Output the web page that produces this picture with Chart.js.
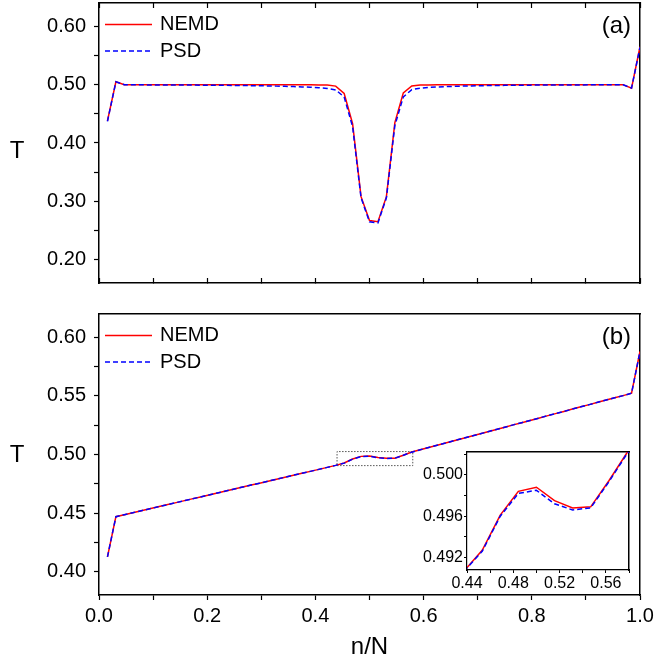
<!DOCTYPE html>
<html>
<head>
<meta charset="utf-8">
<title>Temperature profiles NEMD / PSD</title>
<script src="https://cdn.jsdelivr.net/npm/chart.js@4.4.1/dist/chart.umd.min.js"></script>
<style>
  body { margin: 0; background: #fff; }
  #wrap { position: relative; width: 654px; height: 663px; }
  canvas { position: absolute; left: 0; }
  #chartA { top: 0; }
  #chartB { top: 300px; }
  #inset { left: 410px; top: 440px; }
</style>
</head>
<body>
<div id="wrap">
  <canvas id="chartA" width="654" height="300"></canvas>
  <canvas id="chartB" width="654" height="363"></canvas>
  <canvas id="inset" width="230" height="160"></canvas>
</div>
<script>
// chain length and site index n (x = n/N)
const N = 64;
const sites = [
  1, 2, 3, 4, 5, 6, 7, 8, 9, 10, 11, 12, 13, 14, 15, 16,
  17, 18, 19, 20, 21, 22, 23, 24, 25, 26, 27, 28, 29, 30, 31, 32,
  33, 34, 35, 36, 37, 38, 39, 40, 41, 42, 43, 44, 45, 46, 47, 48,
  49, 50, 51, 52, 53, 54, 55, 56, 57, 58, 59, 60, 61, 62, 63, 64
];

// panel (a)
const nemdA = [
  0.438, 0.505, 0.500, 0.500, 0.500, 0.500, 0.500, 0.500, 0.500, 0.500,
  0.500, 0.500, 0.500, 0.500, 0.500, 0.500, 0.500, 0.500, 0.500, 0.500,
  0.500, 0.500, 0.500, 0.4999, 0.4998, 0.4996, 0.4993, 0.4975, 0.485, 0.433,
  0.308, 0.267, 0.265, 0.308, 0.435, 0.486, 0.4978, 0.4993, 0.4996, 0.4998,
  0.4999, 0.500, 0.500, 0.500, 0.500, 0.500, 0.500, 0.500, 0.500, 0.500,
  0.500, 0.500, 0.500, 0.500, 0.500, 0.500, 0.500, 0.500, 0.500, 0.500,
  0.500, 0.500, 0.494, 0.565
];
const psdA = [
  0.437, 0.505, 0.4998, 0.4997, 0.4997, 0.4996, 0.4996, 0.4995, 0.4995, 0.4994,
  0.4993, 0.4992, 0.4991, 0.4990, 0.4988, 0.4987, 0.4985, 0.4983, 0.4981, 0.4978,
  0.4975, 0.4971, 0.4967, 0.4962, 0.4956, 0.4948, 0.4935, 0.4910, 0.479, 0.428,
  0.306, 0.265, 0.263, 0.306, 0.430, 0.479, 0.4915, 0.4940, 0.4952, 0.4960,
  0.4966, 0.4971, 0.4975, 0.4978, 0.4981, 0.4984, 0.4986, 0.4988, 0.4990, 0.4991,
  0.4992, 0.4993, 0.4994, 0.4995, 0.4995, 0.4996, 0.4996, 0.4997, 0.4997, 0.4997,
  0.4998, 0.4998, 0.4942, 0.564
];

// panel (b)
const nemdB = [
  0.4125, 0.4469, 0.4486, 0.4503, 0.4520, 0.4536, 0.4553, 0.4570, 0.4587, 0.4604,
  0.4621, 0.4637, 0.4654, 0.4671, 0.4688, 0.4705, 0.4722, 0.4739, 0.4755, 0.4772,
  0.4789, 0.4806, 0.4823, 0.4840, 0.4856, 0.4873, 0.4890, 0.4907, 0.4927, 0.4961,
  0.4984, 0.4988, 0.4975, 0.4968, 0.4969, 0.4994, 0.5021, 0.5040, 0.5060, 0.5079,
  0.5098, 0.5118, 0.5137, 0.5156, 0.5175, 0.5195, 0.5214, 0.5233, 0.5253, 0.5272,
  0.5291, 0.5310, 0.5330, 0.5349, 0.5368, 0.5388, 0.5407, 0.5426, 0.5446, 0.5465,
  0.5484, 0.5503, 0.5523, 0.5880
];
const psdB = [
  0.4125, 0.4469, 0.4486, 0.4503, 0.4520, 0.4536, 0.4553, 0.4570, 0.4587, 0.4604,
  0.4621, 0.4637, 0.4654, 0.4671, 0.4688, 0.4705, 0.4722, 0.4739, 0.4755, 0.4772,
  0.4789, 0.4806, 0.4823, 0.4840, 0.4856, 0.4873, 0.4890, 0.4907, 0.4926, 0.4960,
  0.4982, 0.4985, 0.4972, 0.4966, 0.4968, 0.4993, 0.5020, 0.5040, 0.5060, 0.5079,
  0.5098, 0.5118, 0.5137, 0.5156, 0.5175, 0.5195, 0.5214, 0.5233, 0.5253, 0.5272,
  0.5291, 0.5310, 0.5330, 0.5349, 0.5368, 0.5388, 0.5407, 0.5426, 0.5446, 0.5465,
  0.5484, 0.5503, 0.5523, 0.5880
];

// zoomed region (dotted box in (b), range of the inset)
const boxX = [0.44, 0.58, 0.58, 0.44, 0.44];
const boxY = [0.4905, 0.4905, 0.5025, 0.5025, 0.4905];

// labelled ticks
const xTicks = [0, 0.2, 0.4, 0.6, 0.8, 1.0];
const yTicksA = [0.2, 0.3, 0.4, 0.5, 0.6];
const yTicksB = [0.40, 0.45, 0.50, 0.55, 0.60];
const xTicksInset = [0.44, 0.48, 0.52, 0.56];
const yTicksInset = [0.492, 0.496, 0.500];

const family = "'Liberation Sans', Arial, Helvetica, sans-serif";
Chart.defaults.font.family = family;
Chart.defaults.color = '#000';

function points(ys) {
  return sites.map((n, i) => ({ x: n / N, y: ys[i] }));
}

function labelIf(list, digits) {
  return value => list.some(t => Math.abs(t - value) < 1e-9) ? value.toFixed(digits) : '';
}

// fixed axis size, no extra room for overhanging labels
function sizeTo(prop, px) {
  return s => {
    s[prop] = px;
    s.paddingTop = 0; s.paddingBottom = 0; s.paddingLeft = 0; s.paddingRight = 0;
  };
}

// frame-only axis (top / right edge of the box)
function edgeAxis(position, min, max, step, tick) {
  const horizontal = position === 'top' || position === 'bottom';
  return {
    type: 'linear', position, min, max,
    afterFit: sizeTo(horizontal ? 'height' : 'width', 0),
    border: { color: '#000', width: 1.5 },
    grid: { drawOnChartArea: false, drawTicks: !!tick, tickLength: tick || 0, tickColor: '#000', tickWidth: 1.2 },
    ticks: { display: false, stepSize: step, includeBounds: false, autoSkip: false }
  };
}

const panelDecor = {
  id: 'panelDecor',
  beforeDraw(chart, args, opts) {
    if (!opts.whiteArea) return;
    const a = chart.chartArea;
    chart.ctx.save();
    chart.ctx.fillStyle = '#fff';
    chart.ctx.fillRect(a.left, a.top, a.right - a.left, a.bottom - a.top);
    chart.ctx.restore();
  },
  afterDraw(chart, args, opts) {
    const ctx = chart.ctx;
    const a = chart.chartArea;
    ctx.save();
    ctx.fillStyle = '#000';
    ctx.textBaseline = 'middle';
    if (opts.tag) {
      ctx.font = '24px ' + family;
      ctx.textAlign = 'right';
      ctx.fillText(opts.tag, a.right - 9, a.top + 23);
    }
    if (opts.yTitle) {
      ctx.font = '24px ' + family;
      ctx.textAlign = 'center';
      ctx.fillText(opts.yTitle, 17, opts.yTitleY);
    }
    if (opts.legend) {
      // legend from the dataset styles
      chart.data.datasets.filter(d => d.inLegend).forEach((d, i) => {
        const y = a.top + 21.5 + i * 26.5;
        ctx.strokeStyle = d.borderColor;
        ctx.lineWidth = d.borderWidth;
        ctx.setLineDash(d.borderDash || []);
        ctx.beginPath();
        ctx.moveTo(a.left + 6, y);
        ctx.lineTo(a.left + 53, y);
        ctx.stroke();
        ctx.setLineDash([]);
        ctx.font = '20px ' + family;
        ctx.textAlign = 'left';
        ctx.fillText(d.label, a.left + 61, y);
      });
    }
    ctx.restore();
  }
};

function seriesSets(nemd, psd) {
  return [
    { label: 'NEMD', inLegend: true, data: points(nemd), borderColor: '#ff0000', borderWidth: 1.5,
      pointRadius: 0, tension: 0, order: 1 },
    { label: 'PSD', inLegend: true, data: points(psd), borderColor: '#0000ff', borderWidth: 1.5,
      borderDash: [5, 3], pointRadius: 0, tension: 0, order: 0 }
  ];
}

const common = {
  responsive: false,
  animation: false,
  events: [],
  plugins: { legend: { display: false }, tooltip: { enabled: false } }
};

// panel (a)
new Chart(document.getElementById('chartA'), {
  type: 'line',
  data: { datasets: seriesSets(nemdA, psdA) },
  plugins: [panelDecor],
  options: {
    ...common,
    layout: { padding: { left: 0, right: 14, top: 3, bottom: 0 } },
    plugins: { ...common.plugins, panelDecor: { tag: '(a)', yTitle: 'T', yTitleY: 151, legend: true } },
    scales: {
      x: {
        type: 'linear', position: 'bottom', min: 0, max: 1,
        afterFit: sizeTo('height', 17),
        border: { color: '#000', width: 1.5 },
        grid: { drawOnChartArea: false, tickLength: -5, tickColor: '#000', tickWidth: 1.2 },
        ticks: { display: false, stepSize: 0.1, includeBounds: false, autoSkip: false }
      },
      xTop: edgeAxis('top', 0, 1, 0.1, -5),
      y: {
        type: 'linear', position: 'left', min: 0.16, max: 0.64,
        afterFit: sizeTo('width', 99),
        border: { color: '#000', width: 1.5 },
        grid: { drawOnChartArea: false, tickLength: 5, tickColor: '#000', tickWidth: 1.2 },
        ticks: { stepSize: 0.05, includeBounds: false, autoSkip: false, padding: 8,
                 font: { size: 20 }, callback: labelIf(yTicksA, 2) }
      },
      yRight: edgeAxis('right', 0.16, 0.64, 0.05, 0)
    }
  }
});

// panel (b)
const setsB = seriesSets(nemdB, psdB);
setsB.push({
  label: 'zoom', inLegend: false,
  data: boxX.map((x, i) => ({ x, y: boxY[i] })),
  borderColor: '#555', borderWidth: 1, borderDash: [1.5, 1.5], pointRadius: 0, order: 2
});

new Chart(document.getElementById('chartB'), {
  type: 'line',
  data: { datasets: setsB },
  plugins: [panelDecor],
  options: {
    ...common,
    layout: { padding: { left: 0, right: 14, top: 14, bottom: 0 } },
    plugins: { ...common.plugins, panelDecor: { tag: '(b)', yTitle: 'T', yTitleY: 155, legend: true } },
    scales: {
      x: {
        type: 'linear', position: 'bottom', min: 0, max: 1,
        afterFit: sizeTo('height', 68),
        border: { color: '#000', width: 1.5 },
        grid: { drawOnChartArea: false, tickLength: 5, tickColor: '#000', tickWidth: 1.2 },
        ticks: { stepSize: 0.1, includeBounds: false, autoSkip: false, maxRotation: 0, padding: 4,
                 font: { size: 20 }, callback: labelIf(xTicks, 1) },
        title: { display: true, text: 'n/N', font: { size: 24 }, padding: { top: 0, bottom: 1 } }
      },
      xTop: edgeAxis('top', 0, 1, 0.1, 0),
      y: {
        type: 'linear', position: 'left', min: 0.38, max: 0.62,
        afterFit: sizeTo('width', 99),
        border: { color: '#000', width: 1.5 },
        grid: { drawOnChartArea: false, tickLength: 5, tickColor: '#000', tickWidth: 1.2 },
        ticks: { stepSize: 0.025, includeBounds: false, autoSkip: false, padding: 8,
                 font: { size: 20 }, callback: labelIf(yTicksB, 2) }
      },
      yRight: edgeAxis('right', 0.38, 0.62, 0.025, 0)
    }
  }
});

// inset of (b)
new Chart(document.getElementById('inset'), {
  type: 'line',
  data: { datasets: seriesSets(nemdB, psdB) },
  plugins: [panelDecor],
  options: {
    ...common,
    layout: { padding: { left: 0, right: 11, top: 12, bottom: 0 } },
    plugins: { ...common.plugins, panelDecor: { whiteArea: true } },
    scales: {
      x: {
        type: 'linear', position: 'bottom', min: 0.44, max: 0.58,
        afterFit: sizeTo('height', 30),
        border: { color: '#000', width: 1.2 },
        grid: { drawOnChartArea: false, tickLength: 3, tickColor: '#000', tickWidth: 1 },
        ticks: { stepSize: 0.02, includeBounds: false, autoSkip: false, maxRotation: 0, padding: 1,
                 font: { size: 16 }, callback: labelIf(xTicksInset, 2) }
      },
      xTop: edgeAxis('top', 0.44, 0.58, 0.02, 0),
      y: {
        type: 'linear', position: 'left', min: 0.4908, max: 0.5022,
        afterFit: sizeTo('width', 57),
        border: { color: '#000', width: 1.2 },
        grid: { drawOnChartArea: false, tickLength: 3, tickColor: '#000', tickWidth: 1 },
        ticks: { stepSize: 0.002, includeBounds: false, autoSkip: false, padding: 1,
                 font: { size: 16 }, callback: labelIf(yTicksInset, 3) }
      },
      yRight: edgeAxis('right', 0.4908, 0.5022, 0.002, 0)
    }
  }
});
</script>
</body>
</html>
